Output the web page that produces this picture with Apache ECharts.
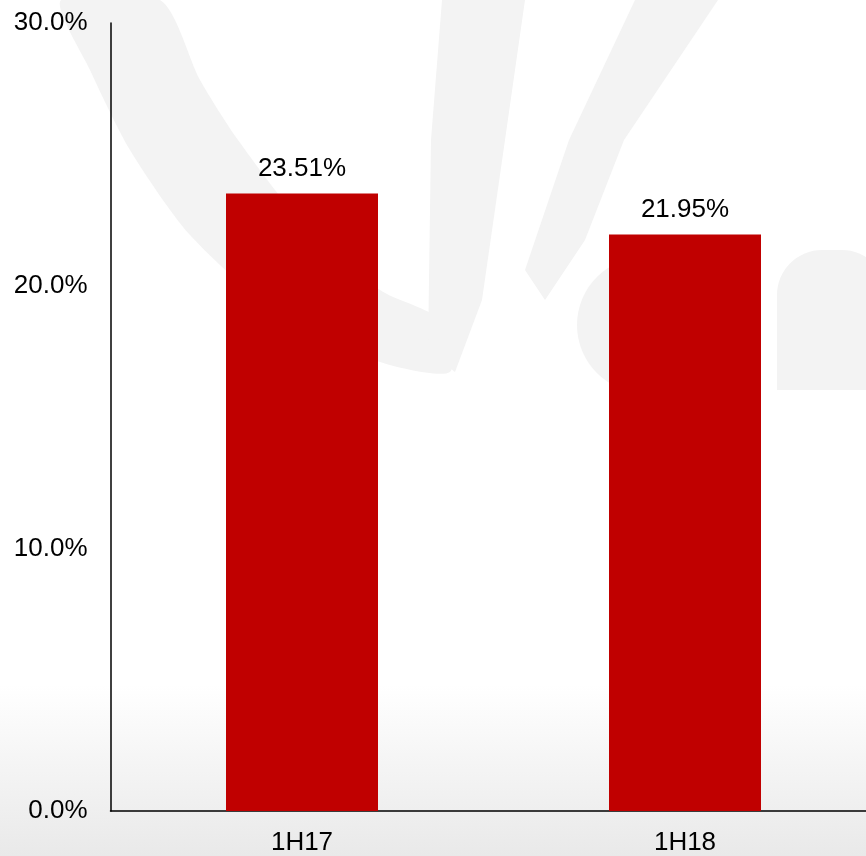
<!DOCTYPE html>
<html>
<head>
<meta charset="utf-8">
<script src="https://cdn.jsdelivr.net/npm/echarts@6/dist/echarts.min.js"></script>
<style>html,body{margin:0;padding:0;background:#fff;overflow:hidden;width:866px;height:856px}#c{width:878px;height:856px}</style>
</head>
<body>
<div id="c"></div>
<script>
const categories = ['1H17', '1H18'];
const values = [23.51, 21.95];
const yTicks = [0, 10, 20, 30];

const chart = echarts.init(document.getElementById('c'));
const wm = '#f3f3f3';
chart.setOption({
  animation: false,
  backgroundColor: '#ffffff',
  textStyle: { fontFamily: 'Liberation Sans' },
  graphic: [
    { type: 'rect', z: -10, shape: { x: 0, y: 0, width: 878, height: 856 },
      style: { fill: new echarts.graphic.LinearGradient(0, 0, 0, 1, [
        { offset: 0, color: '#ffffff' }, { offset: 0.8, color: '#ffffff' }, { offset: 1, color: '#e9e9e9' }]) } },
    { type: 'polygon', z: -9, shape: { smooth: 0.25, points: [[61,0],[160,0],[200,80],[238,140],[300,220],[380,290],[440,320],[450,372],[380,362],[280,315],[190,235],[130,150],[90,70]] }, style: { fill: wm } },
    { type: 'polygon', z: -9, shape: { points: [[442,0],[525,0],[505,140],[482,300],[455,372],[428,350],[431,140]] }, style: { fill: wm } },
    { type: 'polygon', z: -9, shape: { points: [[635,0],[718,0],[624,140],[585,240],[545,300],[525,270],[569,140]] }, style: { fill: wm } },
    { type: 'circle', z: -9, shape: { cx: 645, cy: 325, r: 68 }, style: { fill: wm } },
    { type: 'rect', z: -9, shape: { x: 777, y: 250, width: 110, height: 140, r: [45, 45, 0, 0] }, style: { fill: wm } }
  ],
  grid: { left: 110.5, top: 23, bottom: 44, width: 766, containLabel: false },
  xAxis: {
    type: 'category',
    data: categories,
    axisLine: { show: true, lineStyle: { color: '#000', width: 1.5 } },
    axisTick: { show: false },
    axisLabel: { color: '#000', fontSize: 26, margin: 19, fontFamily: 'Liberation Sans' },
    splitLine: { show: false }
  },
  yAxis: {
    type: 'value',
    min: yTicks[0], max: yTicks[yTicks.length - 1], interval: 10,
    axisLine: { show: true, lineStyle: { color: '#000', width: 1.5 } },
    axisTick: { show: false },
    splitLine: { show: false },
    axisLabel: { color: '#000', fontSize: 26, margin: 23, fontFamily: 'Liberation Sans',
      formatter: v => v.toFixed(1) + '%' }
  },
  series: [{
    type: 'bar',
    data: values,
    barWidth: 152,
    itemStyle: { color: '#C00000' },
    label: { show: true, position: 'top', distance: 12, color: '#000', fontSize: 26,
      fontFamily: 'Liberation Sans', formatter: p => p.value.toFixed(2) + '%' }
  }]
});
</script>
</body>
</html>
